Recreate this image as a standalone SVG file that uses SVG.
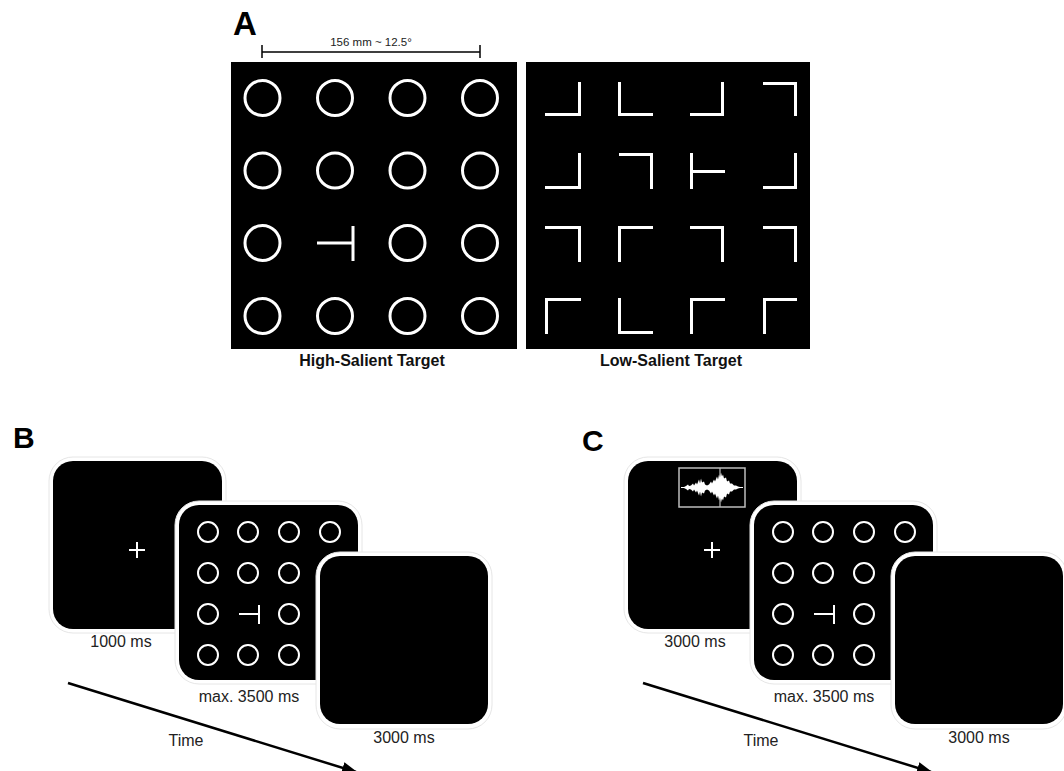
<svg xmlns="http://www.w3.org/2000/svg" width="1064" height="771" viewBox="0 0 1064 771">
<style>
.lbl{font-family:"Liberation Sans",Arial,sans-serif;font-weight:bold;fill:#000}
.cap{font-family:"Liberation Sans",Arial,sans-serif;font-weight:bold;font-size:16px;fill:#111;text-anchor:middle}
.t{font-family:"Liberation Sans",Arial,sans-serif;font-size:16px;fill:#222;text-anchor:middle}
.ring{fill:#fff;stroke:#e6e6e6;stroke-width:1}
.scr{fill:#000}
.bc{fill:none;stroke:#fff;stroke-width:3}
.bl{fill:none;stroke:#fff;stroke-width:3;stroke-linecap:butt}
.sc{fill:none;stroke:#fff;stroke-width:2}
.arr{stroke:#000;stroke-width:2.5;fill:none}
</style>
<defs>
<marker id="ah" markerWidth="16" markerHeight="12" refX="14" refY="6" orient="auto" markerUnits="userSpaceOnUse">
<path d="M0,0 L16,6 L0,12 Z" fill="#000"/>
</marker>
<path id="wave" d="M683,487.5 L686,486 L688,484.5 L689,486 L691,485.5 L693,483.5 L694,485.5 L696,482.5 L697,484.5 L699,479.5 L700,483.5 L701,478.5 L702,482.5 L704,481.5 L705,484.5 L707,485.5 L709,484.5 L711,481.5 L712,483.5 L714,479.5 L715,481.5 L717,476.5 L718,479.5 L719,474.5 L720,477.5 L721,472.5 L722,476.5 L723,474.5 L724,478.5 L726,477.5 L727,481.5 L729,480.5 L730,483.5 L732,483.5 L734,485.5 L736,485.5 L738,486.5 L742,487.5 L738,488.5 L736,489.5 L734,489.5 L732,491.5 L730,491.5 L729,494.5 L727,493.5 L726,497.5 L724,496.5 L723,500.5 L722,498.5 L721,502.5 L720,497.5 L719,500.5 L718,495.5 L717,498.5 L715,493.5 L714,495.5 L712,491.5 L711,493.5 L709,490.5 L707,489.5 L705,490.5 L704,493.5 L702,492.5 L701,496.5 L700,491.5 L699,495.5 L697,490.5 L696,492.5 L694,489.5 L693,491.5 L691,489.5 L689,489 L688,490.5 L686,489 Z"/>
</defs>

<!-- Panel A -->
<g id="panelA">
<text class="lbl" x="233" y="35" font-size="33">A</text>
<g id="scalebar">
<path d="M262,52 H480 M262,45 V58 M480,45 V58" stroke="#000" stroke-width="1.5" fill="none"/>
<text x="371" y="46" font-family="Liberation Sans, Arial, sans-serif" font-size="11.5" fill="#222" text-anchor="middle">156 mm ~ 12.5°</text>
</g>
<g id="highSalient">
<rect x="231" y="62" width="286" height="287" fill="#000"/>
<g class="bc">
<circle cx="262.5" cy="98" r="17.5"/><circle cx="335" cy="98" r="17.5"/><circle cx="407.5" cy="98" r="17.5"/><circle cx="480" cy="98" r="17.5"/>
<circle cx="262.5" cy="170.5" r="17.5"/><circle cx="335" cy="170.5" r="17.5"/><circle cx="407.5" cy="170.5" r="17.5"/><circle cx="480" cy="170.5" r="17.5"/>
<circle cx="262.5" cy="243" r="17.5"/><circle cx="407.5" cy="243" r="17.5"/><circle cx="480" cy="243" r="17.5"/>
<circle cx="262.5" cy="316" r="17.5"/><circle cx="335" cy="316" r="17.5"/><circle cx="407.5" cy="316" r="17.5"/><circle cx="480" cy="316" r="17.5"/>
<path d="M317,243 H353 M353,226 V261"/>
</g>
<text class="cap" x="372" y="366">High-Salient Target</text>
</g>
<g id="lowSalient">
<rect x="526" y="62" width="284" height="287" fill="#000"/>
<g class="bl">
<!-- row 1 -->
<path d="M545,114.5 H579.5 V82"/>
<path d="M619.5,82 V114.5 H653"/>
<path d="M690,114.5 H722.5 V82"/>
<path d="M763,83.5 H795.5 V116"/>
<!-- row 2 -->
<path d="M545,187.5 H579.5 V153"/>
<path d="M619,154.5 H651.5 V189"/>
<path d="M691.5,153 V189 M691.5,171.5 H725"/>
<path d="M763,187.5 H795.5 V153"/>
<!-- row 3 -->
<path d="M545,227.5 H579.5 V262"/>
<path d="M653,227.5 H619.5 V262"/>
<path d="M690,227.5 H722.5 V262"/>
<path d="M763,227.5 H795.5 V262"/>
<!-- row 4 -->
<path d="M581,299.5 H546.5 V334"/>
<path d="M619.5,298 V332.5 H653"/>
<path d="M725,299.5 H691.5 V334"/>
<path d="M797,299.5 H764.5 V334"/>
</g>
<text class="cap" x="671" y="366">Low-Salient Target</text>
</g>
</g>

<!-- Panel B -->
<g id="panelB">
<text class="lbl" x="13" y="448" font-size="30">B</text>
<g id="B-fixation">
<rect class="ring" x="49" y="457" width="177" height="176" rx="24"/>
<rect class="scr" x="53" y="461" width="169" height="168" rx="20"/>
<path d="M129,550 H145 M137,542 V558" stroke="#fff" stroke-width="2"/>
</g>
<text class="t" x="121" y="647">1000 ms</text>
<g id="B-search">
<rect class="ring" x="175" y="501" width="187" height="183" rx="24"/>
<rect class="scr" x="179" y="505" width="179" height="175" rx="20"/>
<g class="sc">
<circle cx="208" cy="532" r="10"/><circle cx="248" cy="532" r="10"/><circle cx="289" cy="532" r="10"/><circle cx="330" cy="532" r="10"/>
<circle cx="208" cy="573" r="10"/><circle cx="248" cy="573" r="10"/><circle cx="289" cy="573" r="10"/>
<circle cx="208" cy="614" r="10"/><circle cx="289" cy="614" r="10"/>
<circle cx="208" cy="655" r="10"/><circle cx="248" cy="655" r="10"/><circle cx="289" cy="655" r="10"/>
<path d="M239,614 H259 M259,605 V624"/>
</g>
</g>
<text class="t" x="249" y="702">max. 3500 ms</text>
<g id="B-blank">
<rect class="ring" x="316" y="552" width="176" height="177" rx="24"/>
<rect class="scr" x="320" y="556" width="168" height="168" rx="20"/>
</g>
<text class="t" x="404" y="743">3000 ms</text>
<text class="t" x="186" y="746">Time</text>
</g>

<!-- Panel C -->
<g id="panelC">
<text class="lbl" x="582" y="451" font-size="30">C</text>
<g id="C-cue">
<rect class="ring" x="624" y="457" width="177" height="176" rx="24"/>
<rect class="scr" x="628" y="461" width="169" height="168" rx="20"/>
<rect x="679" y="468" width="66" height="39" fill="#000" stroke="#bdbdbd" stroke-width="1.5"/>
<line x1="720" y1="468" x2="720" y2="507" stroke="#bdbdbd" stroke-width="1.2"/>
<line x1="681" y1="487.5" x2="743" y2="487.5" stroke="#fff" stroke-width="1"/>
<use href="#wave" fill="#fff"/>
<path d="M704,550 H720 M712,542 V558" stroke="#fff" stroke-width="2"/>
</g>
<text class="t" x="695" y="647">3000 ms</text>
<g id="C-search">
<rect class="ring" x="750" y="501" width="187" height="183" rx="24"/>
<rect class="scr" x="754" y="505" width="179" height="175" rx="20"/>
<g class="sc">
<circle cx="783" cy="532" r="10"/><circle cx="823" cy="532" r="10"/><circle cx="864" cy="532" r="10"/><circle cx="905" cy="532" r="10"/>
<circle cx="783" cy="573" r="10"/><circle cx="823" cy="573" r="10"/><circle cx="864" cy="573" r="10"/>
<circle cx="783" cy="614" r="10"/><circle cx="864" cy="614" r="10"/>
<circle cx="783" cy="655" r="10"/><circle cx="823" cy="655" r="10"/><circle cx="864" cy="655" r="10"/>
<path d="M814,614 H834 M834,605 V624"/>
</g>
</g>
<text class="t" x="824" y="702">max. 3500 ms</text>
<g id="C-blank">
<rect class="ring" x="891" y="552" width="176" height="177" rx="24"/>
<rect class="scr" x="895" y="556" width="168" height="168" rx="20"/>
</g>
<text class="t" x="979" y="743">3000 ms</text>
<text class="t" x="761" y="746">Time</text>
</g>

<g id="connectors">
<line class="arr" x1="68" y1="683" x2="356" y2="772" marker-end="url(#ah)"/>
<line class="arr" x1="643" y1="683" x2="931" y2="772" marker-end="url(#ah)"/>
</g>
</svg>
